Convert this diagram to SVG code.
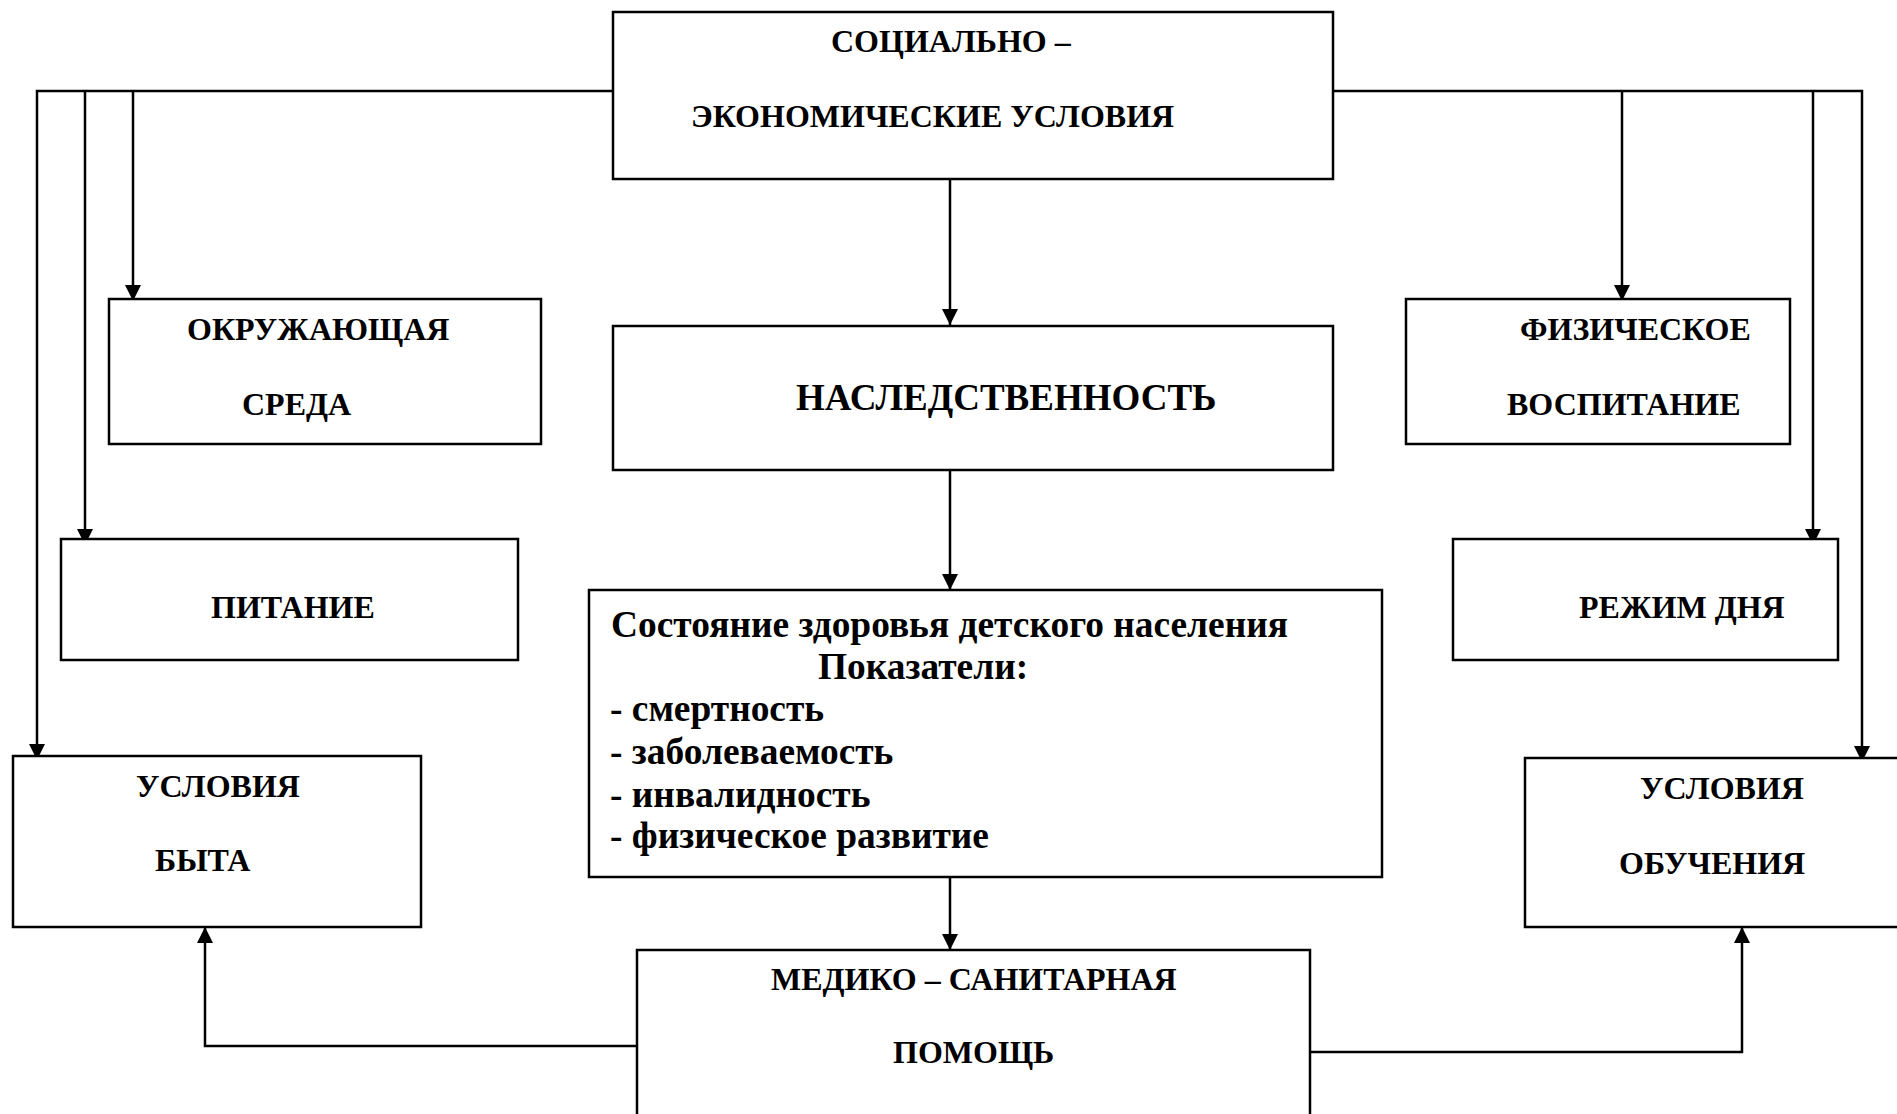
<svg xmlns="http://www.w3.org/2000/svg" width="1897" height="1114" viewBox="0 0 1897 1114">
<style>
.box{fill:#fff;stroke:#000;stroke-width:2.5}
.lbl{font-family:"Liberation Serif","Times New Roman",serif;font-weight:bold;font-size:32px;fill:#000}
.big{font-size:37px}
.body{font-size:37.4px}
.c{fill:none;stroke:#000;stroke-width:2.5}
</style>
<defs>
<marker id="ah" markerUnits="userSpaceOnUse" markerWidth="17" markerHeight="17" refX="16" refY="8" orient="auto">
<path d="M0,0 L16,8 L0,16 z" fill="#000"/>
</marker>
</defs>
<rect width="1897" height="1114" fill="#fff"/>
<g id="connectors">
<path class="c" d="M613,91 H37 V760" marker-end="url(#ah)"/>
<path class="c" d="M85,91 V545" marker-end="url(#ah)"/>
<path class="c" d="M133,91 V301" marker-end="url(#ah)"/>
<path class="c" d="M1333,91 H1862 V762" marker-end="url(#ah)"/>
<path class="c" d="M1622,91 V301" marker-end="url(#ah)"/>
<path class="c" d="M1813,91 V545" marker-end="url(#ah)"/>
<path class="c" d="M950,179 V325" marker-end="url(#ah)"/>
<path class="c" d="M950,469 V590" marker-end="url(#ah)"/>
<path class="c" d="M950,877 V950" marker-end="url(#ah)"/>
<path class="c" d="M637,1046 H205 V927" marker-end="url(#ah)"/>
<path class="c" d="M1310,1052 H1742 V927" marker-end="url(#ah)"/>
</g>
<g id="socio">
<rect class="box" x="613" y="12" width="720" height="167"/>
<text class="lbl" x="831" y="52">СОЦИАЛЬНО –</text>
<text class="lbl" x="691" y="127">ЭКОНОМИЧЕСКИЕ УСЛОВИЯ</text>
</g>
<g id="env">
<rect class="box" x="109" y="299" width="432" height="145"/>
<text class="lbl" x="187" y="340">ОКРУЖАЮЩАЯ</text>
<text class="lbl" x="242" y="415">СРЕДА</text>
</g>
<g id="heredity">
<rect class="box" x="613" y="326" width="720" height="144"/>
<text class="lbl big" x="796" y="410">НАСЛЕДСТВЕННОСТЬ</text>
</g>
<g id="phys">
<rect class="box" x="1406" y="299" width="384" height="145"/>
<text class="lbl" x="1520" y="340">ФИЗИЧЕСКОЕ</text>
<text class="lbl" x="1507" y="415">ВОСПИТАНИЕ</text>
</g>
<g id="nutrition">
<rect class="box" x="61" y="539" width="457" height="121"/>
<text class="lbl" x="211" y="618">ПИТАНИЕ</text>
</g>
<g id="health">
<rect class="box" x="589" y="590" width="793" height="287"/>
<text class="lbl body" x="611" y="637">Состояние здоровья детского населения</text>
<text class="lbl body" x="818" y="679">Показатели:</text>
<text class="lbl body" x="610" y="721">- смертность</text>
<text class="lbl body" x="610" y="764">- заболеваемость</text>
<text class="lbl body" x="610" y="807">- инвалидность</text>
<text class="lbl body" x="610" y="848">- физическое развитие</text>
</g>
<g id="regime">
<rect class="box" x="1453" y="539" width="385" height="121"/>
<text class="lbl" x="1579" y="618">РЕЖИМ ДНЯ</text>
</g>
<g id="living">
<rect class="box" x="13" y="756" width="408" height="171"/>
<text class="lbl" x="136" y="797">УСЛОВИЯ</text>
<text class="lbl" x="155" y="871">БЫТА</text>
</g>
<g id="education">
<rect class="box" x="1525" y="758" width="400" height="169"/>
<text class="lbl" x="1640" y="799">УСЛОВИЯ</text>
<text class="lbl" x="1619" y="874">ОБУЧЕНИЯ</text>
</g>
<g id="medical">
<rect class="box" x="637" y="950" width="673" height="180"/>
<text class="lbl" x="771" y="990">МЕДИКО – САНИТАРНАЯ</text>
<text class="lbl" x="893" y="1063">ПОМОЩЬ</text>
</g>
</svg>
